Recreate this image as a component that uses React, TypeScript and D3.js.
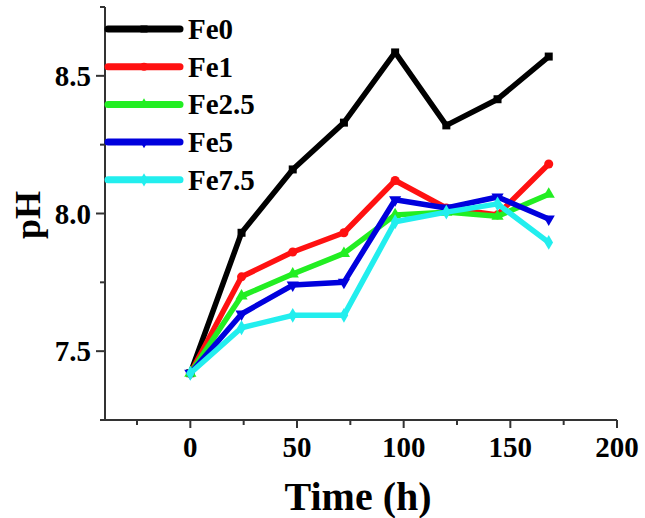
import React from "react";
import * as d3 from "d3";

const times = [0, 24, 48, 72, 96, 120, 144, 168];
const seriesNames = ["Fe0", "Fe1", "Fe2.5", "Fe5", "Fe7.5"];
const fe0 = [7.42, 7.93, 8.16, 8.33, 8.585, 8.32, 8.415, 8.57];
const fe1 = [7.42, 7.77, 7.86, 7.93, 8.12, 8.02, 7.995, 8.18];
const fe25 = [7.42, 7.70, 7.78, 7.855, 7.995, 8.005, 7.99, 8.07];
const fe5 = [7.42, 7.635, 7.74, 7.75, 8.05, 8.02, 8.06, 7.98];
const fe75 = [7.42, 7.585, 7.63, 7.63, 7.97, 8.005, 8.035, 7.895];
const seriesValues = [fe0, fe1, fe25, fe5, fe75];
const colors = ["#000000", "#ff1111", "#22ee22", "#0000dd", "#22eeee"];
const symbols = [d3.symbolSquare, d3.symbolCircle, d3.symbolTriangle, d3.symbolTriangle, d3.symbolDiamond];
const symbolRot = [0, 0, 0, 180, 0];
const xMajor = [0, 50, 100, 150, 200];
const xMinor = [-25, 25, 75, 125, 175];
const yMajor = [7.5, 8.0, 8.5];
const yMinor = [7.25, 7.75, 8.25, 8.75];

const W = 645;
const H = 518;
const FONT = "'Liberation Serif', 'Times New Roman', serif";

export default function App() {
  const x = d3.scaleLinear().domain([-40, 200]).range([105, 617]);
  const y = d3.scaleLinear().domain([7.25, 8.75]).range([420, 7]);
  const line = d3
    .line<number>()
    .x((_, i) => x(times[i]))
    .y((d) => y(d));
  const axisColor = "#333";

  return (
    <svg
      width={W}
      height={H}
      style={{ position: "absolute", left: 0, top: 0, background: "#fff" }}
      fontFamily={FONT}
      fontWeight="bold"
    >
      {/* axes */}
      <line x1={x(-40)} x2={x(-40)} y1={y(8.75)} y2={y(7.25)} stroke={axisColor} strokeWidth={2} />
      <line x1={x(-40) - 1} x2={x(200)} y1={y(7.25)} y2={y(7.25)} stroke={axisColor} strokeWidth={2} />
      {xMajor.map((t) => (
        <g key={"xm" + t}>
          <line x1={x(t)} x2={x(t)} y1={y(7.25)} y2={y(7.25) + 8} stroke={axisColor} strokeWidth={2} />
          <text x={x(t)} y={457} textAnchor="middle" fontSize={29} fill="#000">
            {t}
          </text>
        </g>
      ))}
      {xMinor.map((t) => (
        <line key={"xn" + t} x1={x(t)} x2={x(t)} y1={y(7.25)} y2={y(7.25) + 5} stroke={axisColor} strokeWidth={2} />
      ))}
      {yMajor.map((t) => (
        <g key={"ym" + t}>
          <line x1={x(-40) - 9} x2={x(-40)} y1={y(t)} y2={y(t)} stroke={axisColor} strokeWidth={2} />
          <text x={91} y={y(t) + 10} textAnchor="end" fontSize={29} fill="#000">
            {t.toFixed(1)}
          </text>
        </g>
      ))}
      {yMinor.map((t) => (
        <line key={"yn" + t} x1={x(-40) - 5} x2={x(-40)} y1={y(t)} y2={y(t)} stroke={axisColor} strokeWidth={2} />
      ))}
      {/* axis titles */}
      <text x={358} y={510} textAnchor="middle" fontSize={40} fill="#000">
        Time (h)
      </text>
      <text
        transform={`translate(40,215) rotate(-90)`}
        textAnchor="middle"
        fontSize={36}
        fill="#000"
      >
        pH
      </text>
      {/* series */}
      {seriesValues.map((vals, si) => (
        <g key={"s" + si}>
          <path d={line(vals) || ""} fill="none" stroke={colors[si]} strokeWidth={5.5} strokeLinejoin="round" />
          {vals.map((v, i) => (
            <path
              key={i}
              d={d3.symbol().type(symbols[si]).size(64)() || ""}
              transform={`translate(${x(times[i])},${y(v)}) rotate(${symbolRot[si]})`}
              fill={colors[si]}
            />
          ))}
        </g>
      ))}
      {/* legend */}
      {seriesNames.map((name, si) => {
        const ly = 29 + si * 37.7;
        return (
          <g key={"l" + si}>
            <line x1={108} x2={180} y1={ly} y2={ly} stroke={colors[si]} strokeWidth={7} strokeLinecap="round" />
            <path
              d={d3.symbol().type(symbols[si]).size(50)() || ""}
              transform={`translate(144,${ly}) rotate(${symbolRot[si]})`}
              fill={colors[si]}
            />
            <text x={188} y={ly + 10} fontSize={29} fill="#000">
              {name}
            </text>
          </g>
        );
      })}
    </svg>
  );
}
